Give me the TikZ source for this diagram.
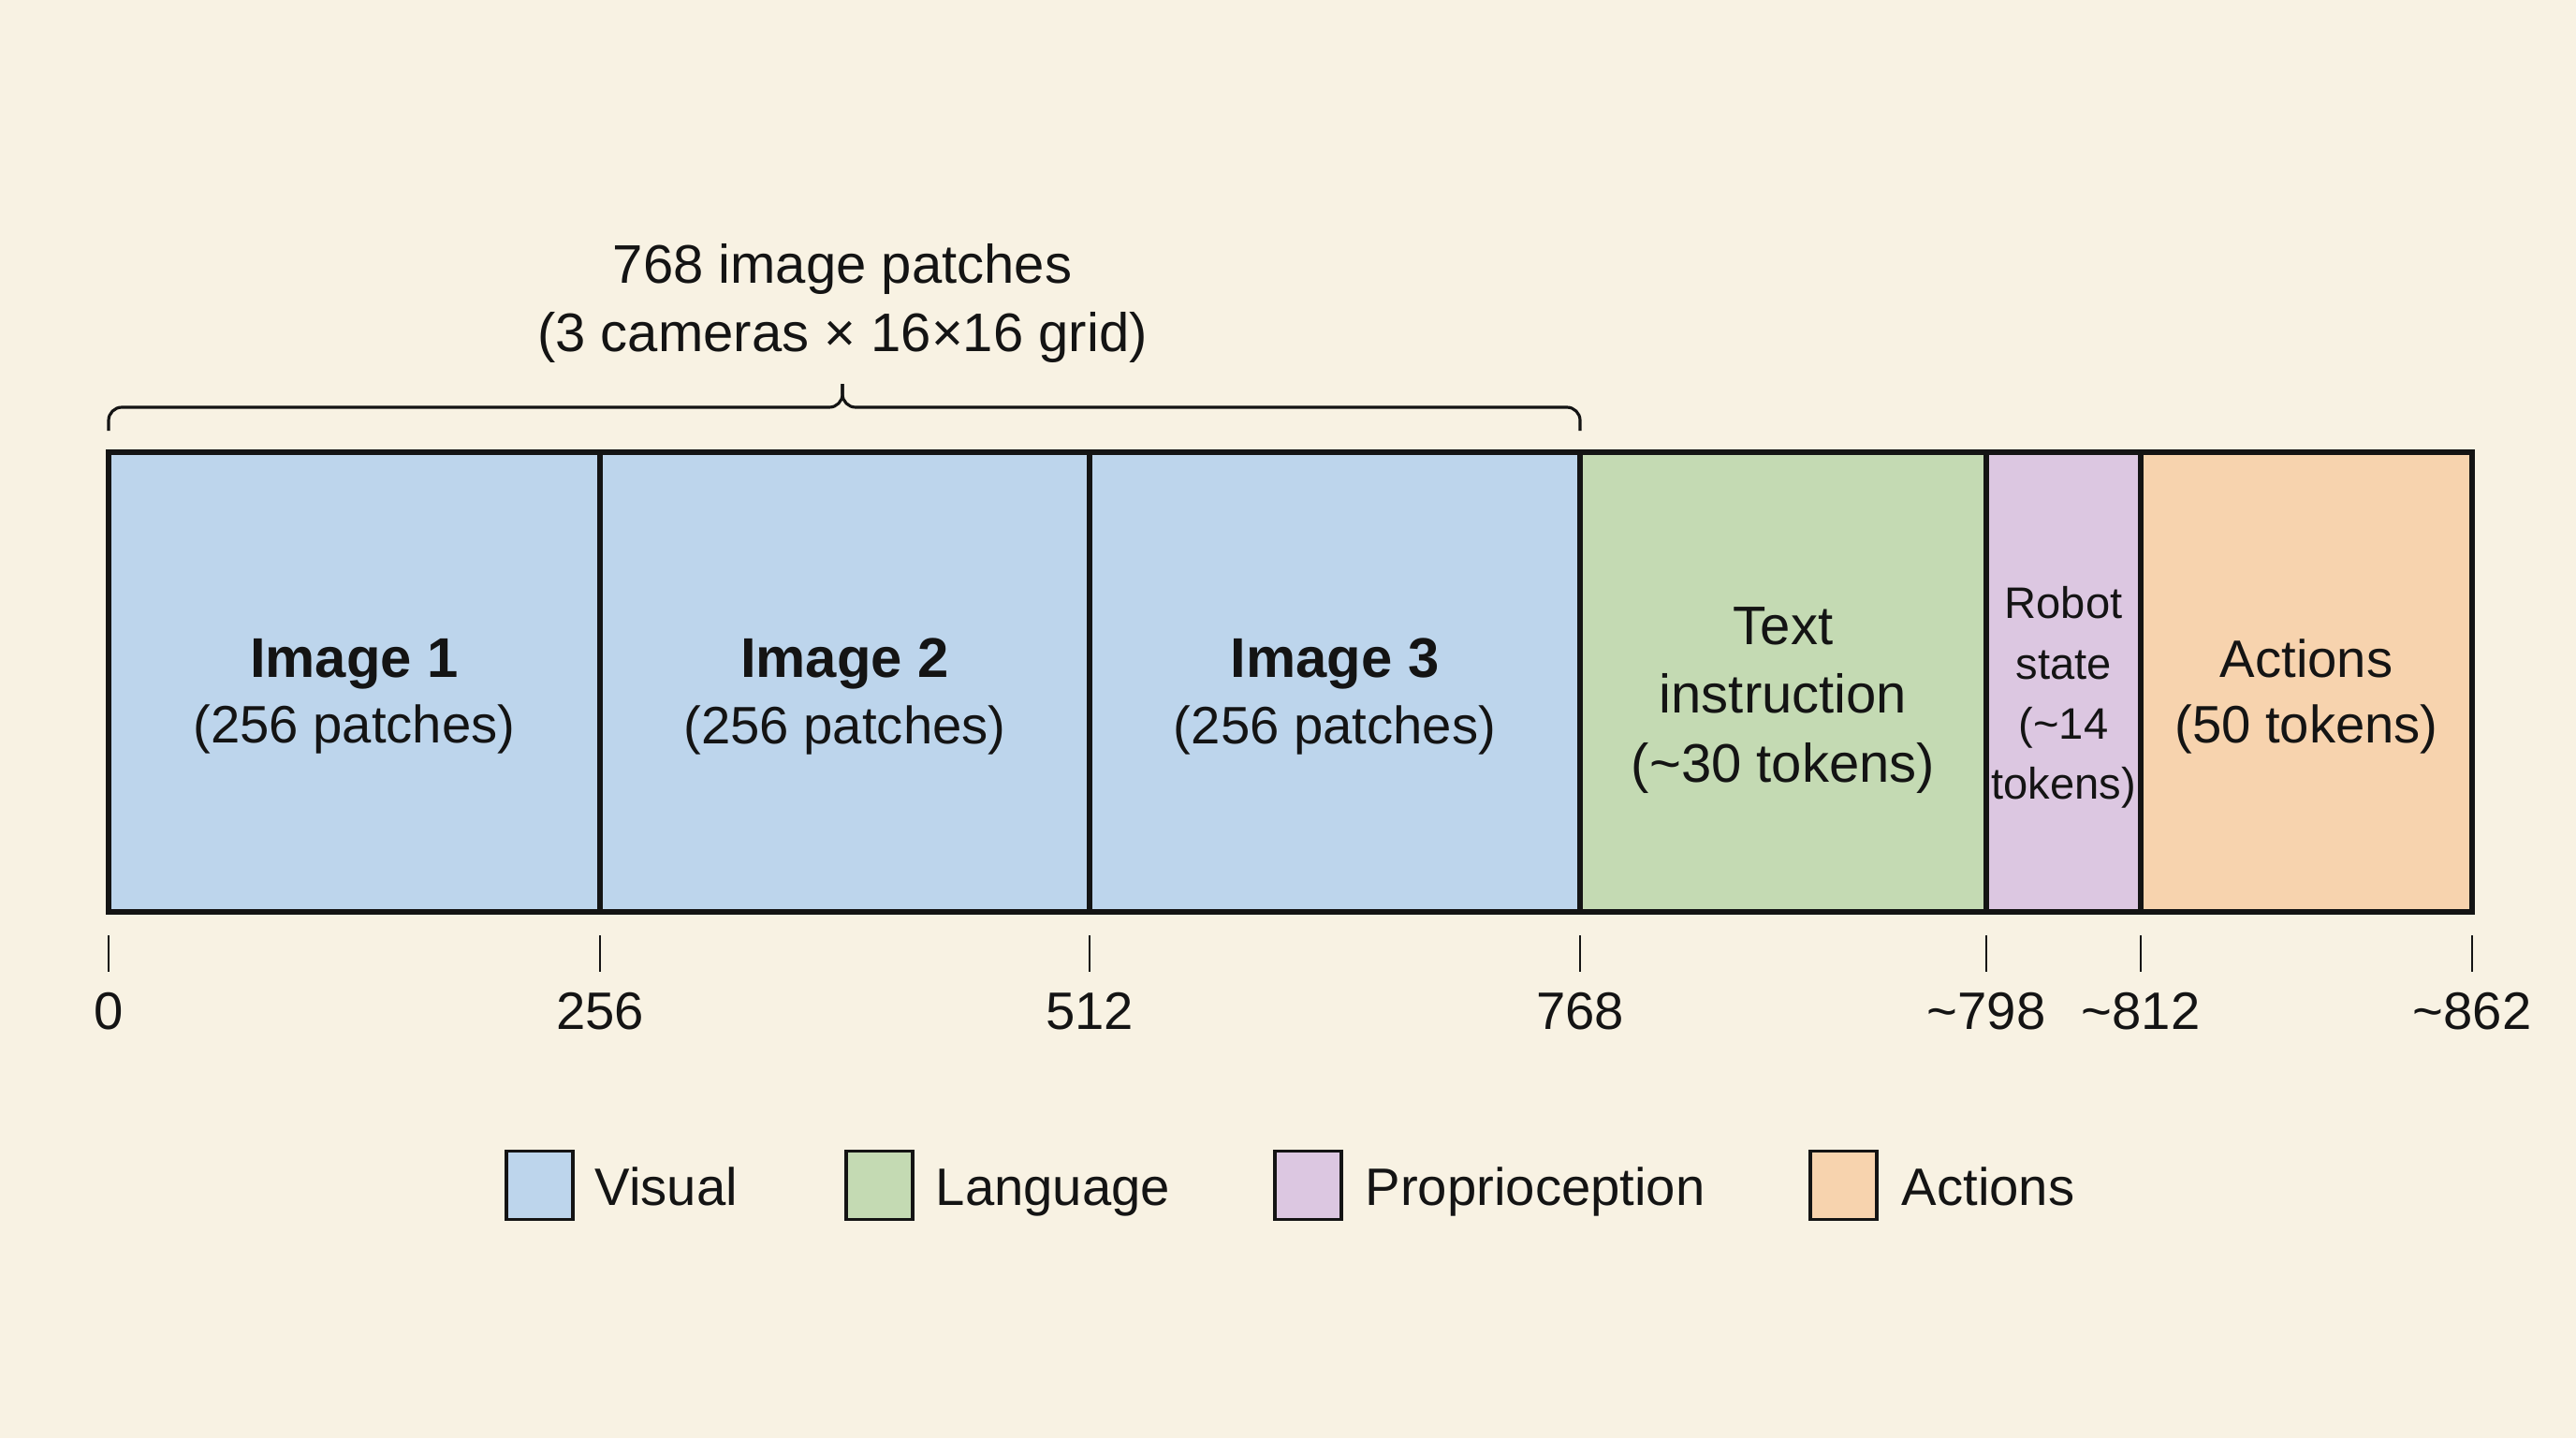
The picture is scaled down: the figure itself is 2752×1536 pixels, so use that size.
\documentclass[tikz,border=0pt]{standalone}
\usepackage{fontspec}
\setmainfont{Liberation Sans}
\definecolor{bg}{HTML}{F8F2E3}
\definecolor{cvis}{HTML}{BDD5EC}
\definecolor{clan}{HTML}{C4DAB3}
\definecolor{cpro}{HTML}{DCC7E1}
\definecolor{cact}{HTML}{F7D3AE}
\definecolor{ink}{HTML}{141414}
\begin{document}
\begin{tikzpicture}[x=0.01cm,y=-0.01cm,
  seg/.style={draw=ink, line width=1.55pt, inner sep=0pt, outer sep=0pt, minimum height=4.91cm},
  lab/.style={text=ink, align=center, inner sep=0pt, font=\fontsize{16}{20}\selectfont},
  smalllab/.style={text=ink, align=center, inner sep=0pt, font=\fontsize{13.4}{18.3}\selectfont},
  ticklab/.style={text=ink, inner sep=0pt, font=\fontsize{16}{20}\selectfont},
  tickline/.style={draw=ink, line width=0.5pt},
  legbox/.style={draw=ink, line width=1.1pt, inner sep=0pt, minimum width=0.71cm, minimum height=0.73cm},
  legtxt/.style={text=ink, anchor=base west, inner sep=0pt, font=\fontsize{16}{20}\selectfont},
  bracestyle/.style={draw=ink, line width=0.9pt, rounded corners=4pt}]
\fill[bg] (0,0) rectangle (2752,1536);
\useasboundingbox (0,0) rectangle (2752,1536);
% title
\node[lab, font=\fontsize{16.5}{21}\selectfont] (title) at (900,324) {768 image patches\\(3 cameras × 16×16 grid)};
% brace
\draw[bracestyle] (116,460) |- (900,435) -- (900,410);
\draw[bracestyle] (1688,460) |- (900,435) -- (900,410);
% segments
\node[seg, fill=cvis, minimum width=5.25cm] (img1) at (378.5,728.5) {};
\node[seg, fill=cvis, minimum width=5.23cm] (img2) at (902.5,728.5) {};
\node[seg, fill=cvis, minimum width=5.24cm] (img3) at (1426,728.5) {};
\node[seg, fill=clan, minimum width=4.34cm] (txt) at (1905,728.5) {};
\node[seg, fill=cpro, minimum width=1.65cm] (rob) at (2204.5,728.5) {};
\node[seg, fill=cact, minimum width=3.54cm] (act) at (2464,728.5) {};
% labels
\node[lab] (img1t) at (378.5,744) {{\fontsize{17}{20}\selectfont\bfseries Image 1}\\(256 patches)};
\node[lab] (img2t) at (902.5,744) {{\fontsize{17}{20}\selectfont\bfseries Image 2}\\(256 patches)};
\node[lab] (img3t) at (1426,744) {{\fontsize{17}{20}\selectfont\bfseries Image 3}\\(256 patches)};
\node[lab, font=\fontsize{16.5}{21}\selectfont] (txtt) at (1905,748) {Text\\instruction\\(\textasciitilde30 tokens)};
\node[smalllab] (robt) at (2204.5,745) {Robot\\state\\(\textasciitilde14\\tokens)};
\node[lab] (actt) at (2464,744) {Actions\\(50 tokens)};
% ticks
\foreach \x/\t in {116/0, 641/256, 1164/512, 1688/768, 2122/\textasciitilde798, 2287/\textasciitilde812, 2641/\textasciitilde862}{
  \draw[tickline] (\x,999) -- (\x,1038);
  \node[ticklab] at (\x,1080) {\t};
}
% legend
\node[legbox, fill=cvis] (lv) at (576.5,1266) {};
\node[legtxt] (lvt) at (635,1287) {Visual};
\node[legbox, fill=clan] (ll) at (939.5,1266) {};
\node[legtxt] (llt) at (999,1287) {Language};
\node[legbox, fill=cpro] (lp) at (1397.5,1266) {};
\node[legtxt] (lpt) at (1458,1287) {Proprioception};
\node[legbox, fill=cact] (la) at (1969.5,1266) {};
\node[legtxt] (lat) at (2031,1287) {Actions};
\end{tikzpicture}
\end{document}
